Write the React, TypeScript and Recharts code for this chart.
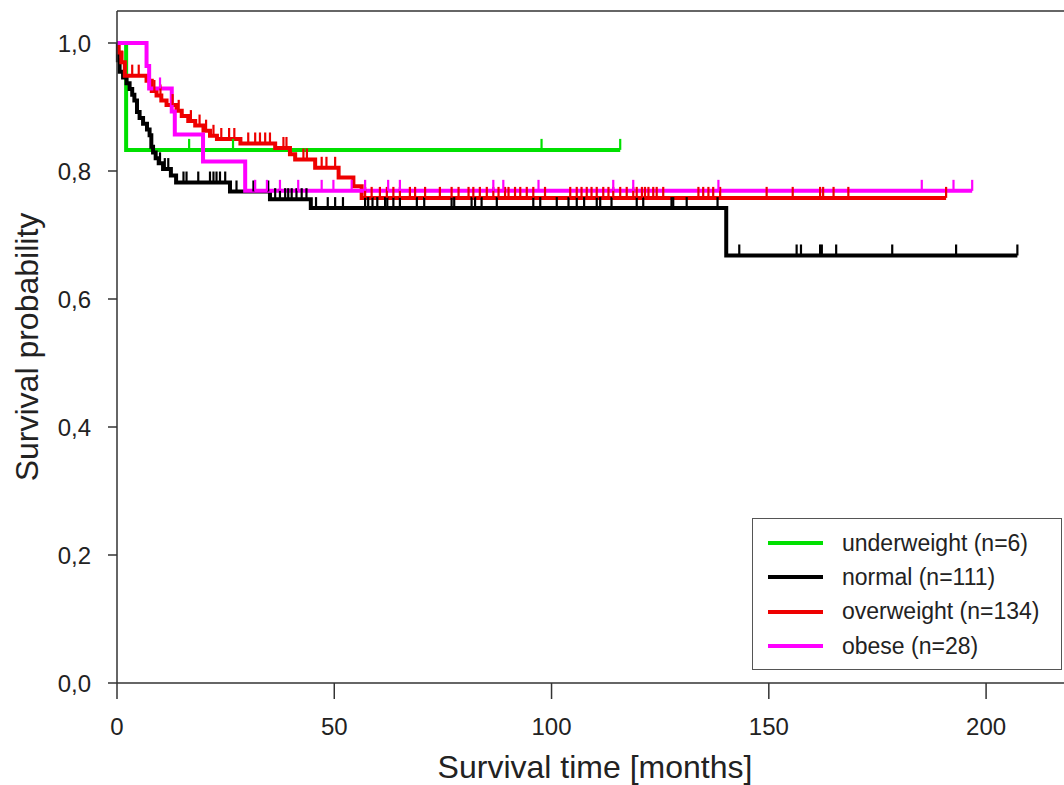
import {
  Customized,
  Legend,
  Line,
  LineChart,
  ReferenceLine,
  XAxis,
  YAxis,
} from 'recharts';

// survival time in months, survival probability after each event
const underweightTimes = [0, 2.1];
const underweightSurv = [1.0, 0.833];
const underweightCensored = [16.6, 26.7, 97.7, 115.8];

const normalTimes = [
  0, 0.2, 0.6, 1.4, 2.2, 2.9, 3.5, 4.0, 4.6, 5.2, 6.0, 6.9, 7.5, 7.9, 8.3, 8.9,
  9.6, 10.6, 12.4, 13.6, 26.0, 35.2, 44.6, 140.2,
];
const normalSurv = [
  1.0, 0.973, 0.955, 0.946, 0.937, 0.928, 0.919, 0.91, 0.892, 0.883, 0.874,
  0.865, 0.856, 0.838, 0.829, 0.82, 0.812, 0.803, 0.793, 0.782, 0.768, 0.756,
  0.742, 0.668,
];
const normalCensored = [
  9.9, 11.0, 11.8, 15.3, 16.0, 18.7, 21.4, 22.2, 22.9, 23.7, 24.9, 27.5, 31.4,
  34.8, 36.4, 37.5, 38.7, 39.4, 40.2, 41.3, 42.5, 43.6, 45.8, 48.5, 50.2, 52.0,
  57.1, 57.8, 58.8, 59.9, 61.7, 62.2, 63.6, 65.1, 69.0, 70.7, 77.0, 77.6, 81.6,
  82.4, 83.9, 87.4, 95.8, 97.4, 101.2, 103.9, 105.8, 107.5, 110.4, 111.2, 113.8,
  119.6, 121.1, 127.6, 128.0, 131.1, 138.2, 143.2, 156.4, 157.4, 161.8, 162.2,
  165.5, 178.4, 193.1, 207.2,
];

const overweightTimes = [
  0, 0.4, 1.0, 1.8, 6.8, 8.0, 9.1, 10.2, 11.4, 13.7, 14.9, 16.4, 18.0, 19.9,
  21.4, 23.0, 28.4, 36.4, 39.8, 41.0, 45.6, 51.0, 54.4, 56.3,
];
const overweightSurv = [
  1.0, 0.985, 0.97, 0.949, 0.941, 0.925, 0.918, 0.91, 0.903, 0.894, 0.886,
  0.878, 0.871, 0.863, 0.855, 0.85, 0.843, 0.836, 0.826, 0.818, 0.805, 0.79,
  0.776, 0.758,
];
const overweightCensored = [
  1.2, 3.5, 5.0, 8.6, 10.0, 12.8, 14.2, 17.0, 19.0, 20.5, 22.2, 24.0, 25.8,
  27.0, 30.2, 31.8, 32.9, 34.1, 35.2, 38.3, 39.0, 42.9, 43.7, 47.1, 48.2, 50.2,
  57.1, 58.6, 60.5, 62.1, 63.6, 65.1, 67.4, 68.6, 70.9, 74.3, 77.0, 78.6, 80.9,
  82.0, 83.5, 85.1, 86.6, 87.8, 89.3, 90.1, 91.6, 92.8, 94.3, 95.8, 98.5, 104.3,
  105.8, 106.9, 108.1, 109.2, 110.4, 111.9, 113.1, 114.2, 115.8, 117.3, 118.8,
  119.6, 120.8, 121.5, 122.3, 123.4, 124.2, 125.7, 133.8, 134.9, 136.1, 137.2,
  138.8, 149.5, 155.5, 161.8, 162.5, 164.9, 168.3, 190.8,
];

const obeseTimes = [0, 6.8, 7.4, 12.6, 13.3, 19.8, 29.5];
const obeseSurv = [1.0, 0.964, 0.929, 0.893, 0.857, 0.815, 0.769];
const obeseCensored = [
  9.9, 31.8, 34.5, 37.5, 41.7, 47.1, 49.8, 54.0, 57.1, 62.4, 65.1, 86.6, 88.9,
  97.0, 114.2, 118.8, 138.4, 185.2, 192.5, 196.8,
];

const xTicks = [0, 50, 100, 150, 200];
const yTicks = [0, 0.2, 0.4, 0.6, 0.8, 1.0];

type Pt = { t: number; s: number; c: boolean };

function buildCurve(times: number[], surv: number[], censored: number[]): Pt[] {
  const survAt = (t: number) => {
    let s = surv[0];
    times.forEach((tt, i) => {
      if (tt <= t) s = surv[i];
    });
    return s;
  };
  const pts: Pt[] = [
    ...times.map((t, i) => ({ t, s: surv[i], c: false })),
    ...censored.map((t) => ({ t, s: survAt(t), c: true })),
  ];
  return pts.sort((a, b) => a.t - b.t || Number(a.c) - Number(b.c));
}

const groups = [
  { name: 'underweight (n=6)', color: '#00e000', data: buildCurve(underweightTimes, underweightSurv, underweightCensored) },
  { name: 'normal (n=111)', color: '#000000', data: buildCurve(normalTimes, normalSurv, normalCensored) },
  { name: 'overweight (n=134)', color: '#ee0000', data: buildCurve(overweightTimes, overweightSurv, overweightCensored) },
  { name: 'obese (n=28)', color: '#ff00ff', data: buildCurve(obeseTimes, obeseSurv, obeseCensored) },
];

const FONT = '"Liberation Sans", Arial, sans-serif';

const censorDot = (color: string, key: string) => (props: any) => {
  const { cx, cy, payload, index } = props;
  if (!payload?.c) return <g key={`${key}-${index}`} />;
  return (
    <line
      key={`${key}-${index}`}
      x1={cx}
      x2={cx}
      y1={cy}
      y2={cy - 11}
      stroke={color}
      strokeWidth={2.2}
    />
  );
};

const AxisTitles = () => (
  <g fontFamily={FONT} fill='#222'>
    <text x={595} y={778} fontSize={32} textAnchor='middle'>
      Survival time [months]
    </text>
    <text
      x={27}
      y={347}
      fontSize={32}
      textAnchor='middle'
      dominantBaseline='central'
      transform='rotate(-90, 27, 347)'
    >
      Survival probability
    </text>
  </g>
);

const LegendBox = () => (
  <div
    style={{
      width: 310,
      height: 152,
      border: '1.5px solid #555',
      background: '#fff',
      boxSizing: 'border-box',
      paddingTop: 7,
      fontFamily: FONT,
      fontSize: 23,
      color: '#222',
    }}
  >
    {groups.map((g) => (
      <div key={g.name} style={{ display: 'flex', alignItems: 'center', height: 34.3 }}>
        <div style={{ width: 55, height: 4, background: g.color, marginLeft: 15, marginRight: 19 }} />
        <span>{g.name}</span>
      </div>
    ))}
  </div>
);

export default function App() {
  return (
    <div style={{ position: 'fixed', left: 0, top: 0, width: 1064, height: 785, overflow: 'hidden', background: '#fff' }}>
      <LineChart width={1090} height={785} margin={{ top: 11, right: 17, left: 17, bottom: 0 }}>
        <XAxis
          type='number'
          dataKey='t'
          domain={[0, 220]}
          ticks={xTicks}
          allowDuplicatedCategory={false}
          height={102}
          tickSize={16}
          tickMargin={19}
          stroke='#333'
          strokeWidth={1.5}
          tick={{ fill: '#222', fontSize: 24, fontFamily: FONT }}
        />
        <YAxis
          type='number'
          domain={[0, 1.05]}
          ticks={yTicks}
          width={100}
          tickSize={9}
          tickMargin={17}
          stroke='#333'
          strokeWidth={1.5}
          tickFormatter={(v: number) => v.toFixed(1).replace('.', ',')}
          tick={{ fill: '#222', fontSize: 24, fontFamily: FONT }}
        />
        <ReferenceLine y={1.05} stroke='#333' strokeWidth={1.5} />
        <ReferenceLine x={220} stroke='#333' strokeWidth={1.5} />
        {groups.map((g) => (
          <Line
            key={g.name}
            data={g.data}
            dataKey='s'
            name={g.name}
            type='stepAfter'
            stroke={g.color}
            strokeWidth={4}
            dot={censorDot(g.color, g.name)}
            activeDot={false}
            isAnimationActive={false}
          />
        ))}
        <Legend
          layout='vertical'
          align='center'
          verticalAlign='middle'
          content={() => <LegendBox />}
          wrapperStyle={{ position: 'absolute', left: 752, top: 518, width: 310, height: 152 }}
        />
        <Customized component={AxisTitles} />
      </LineChart>
    </div>
  );
}
